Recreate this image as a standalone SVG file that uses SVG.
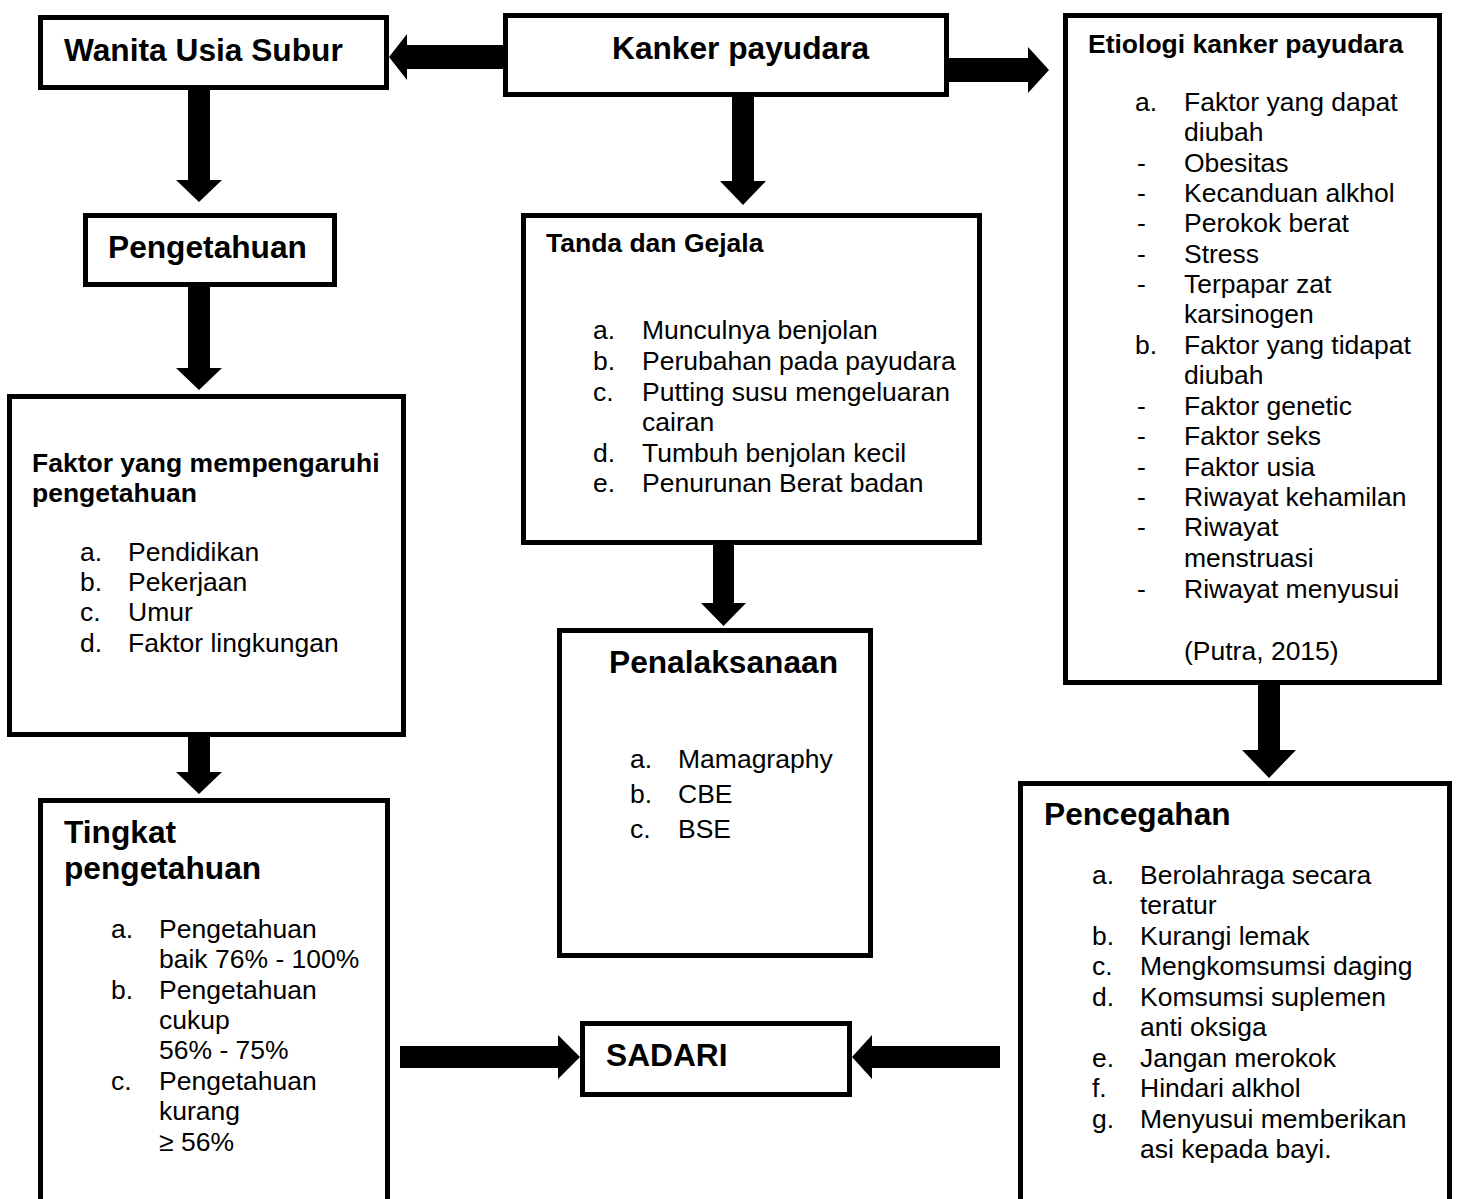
<svg xmlns="http://www.w3.org/2000/svg" width="1465" height="1199" viewBox="0 0 1465 1199">
<style>
.box{fill:#fff;stroke:#000;stroke-width:5}
text{font-family:"Liberation Sans",Arial,sans-serif;fill:#000}
.t{font-size:31.7px;font-weight:bold}
.h{font-size:26.5px;font-weight:bold}
.b{font-size:26.5px}
.arr{fill:#000}
</style>
<rect width="1465" height="1199" fill="#fff"/>
<g id="connectors">
<polygon class="arr" points="188,90 210,90 210,180 222,180 199,202 176,180 188,180"/>
<polygon class="arr" points="188,287 210,287 210,368 222,368 199,390 176,368 188,368"/>
<polygon class="arr" points="188,737 210,737 210,772 222,772 199,794 176,772 188,772"/>
<polygon class="arr" points="732,97 754,97 754,181 766,181 743,205 720,181 732,181"/>
<polygon class="arr" points="713,545 734,545 734,603 746,603 723.5,626 701,603 713,603"/>
<polygon class="arr" points="1258,685 1280,685 1280,750 1296,750 1269,778 1242,750 1258,750"/>
<polygon class="arr" points="503,45 407,45 407,34 389,57 407,80 407,69 503,69"/>
<polygon class="arr" points="949,58 1028,58 1028,47 1049,70 1028,93 1028,82 949,82"/>
<polygon class="arr" points="400,1046 558,1046 558,1035 580,1057 558,1079 558,1068 400,1068"/>
<polygon class="arr" points="1000,1046 872,1046 872,1035 852,1057 872,1079 872,1068 1000,1068"/>
</g>
<g id="wanita">
<rect class="box" x="40.5" y="17.5" width="346" height="70"/>
<text class="t" x="64" y="61">Wanita Usia Subur</text>
</g>
<g id="kanker">
<rect class="box" x="505.5" y="15.5" width="441" height="79"/>
<text class="t" x="612" y="59">Kanker payudara</text>
</g>
<g id="etiologi">
<rect class="box" x="1065.5" y="15.5" width="374" height="667"/>
<text class="h" x="1088" y="53">Etiologi kanker payudara</text>
<g class="b">
<text x="1135" y="111">a.</text><text x="1184" y="111">Faktor yang dapat</text>
<text x="1184" y="141">diubah</text>
<text x="1137" y="172">-</text><text x="1184" y="172">Obesitas</text>
<text x="1137" y="202">-</text><text x="1184" y="202">Kecanduan alkhol</text>
<text x="1137" y="232">-</text><text x="1184" y="232">Perokok berat</text>
<text x="1137" y="263">-</text><text x="1184" y="263">Stress</text>
<text x="1137" y="293">-</text><text x="1184" y="293">Terpapar zat</text>
<text x="1184" y="323">karsinogen</text>
<text x="1135" y="354">b.</text><text x="1184" y="354">Faktor yang tidapat</text>
<text x="1184" y="384">diubah</text>
<text x="1137" y="415">-</text><text x="1184" y="415">Faktor genetic</text>
<text x="1137" y="445">-</text><text x="1184" y="445">Faktor seks</text>
<text x="1137" y="476">-</text><text x="1184" y="476">Faktor usia</text>
<text x="1137" y="506">-</text><text x="1184" y="506">Riwayat kehamilan</text>
<text x="1137" y="536">-</text><text x="1184" y="536">Riwayat</text>
<text x="1184" y="567">menstruasi</text>
<text x="1137" y="598">-</text><text x="1184" y="598">Riwayat menyusui</text>
<text x="1184" y="660">(Putra, 2015)</text>
</g>
</g>
<g id="pengetahuan">
<rect class="box" x="85.5" y="215.5" width="249" height="69"/>
<text class="t" x="108" y="258">Pengetahuan</text>
</g>
<g id="faktor">
<rect class="box" x="9.5" y="396.5" width="394" height="338"/>
<text class="h" x="32" y="472">Faktor yang mempengaruhi</text>
<text class="h" x="32" y="502">pengetahuan</text>
<g class="b">
<text x="80" y="561">a.</text><text x="128" y="561">Pendidikan</text>
<text x="80" y="591">b.</text><text x="128" y="591">Pekerjaan</text>
<text x="80" y="621">c.</text><text x="128" y="621">Umur</text>
<text x="80" y="652">d.</text><text x="128" y="652">Faktor lingkungan</text>
</g>
</g>
<g id="tingkat">
<rect class="box" x="40.5" y="800.5" width="347" height="410"/>
<text class="t" x="64" y="843">Tingkat</text>
<text class="t" x="64" y="879">pengetahuan</text>
<g class="b">
<text x="111" y="938">a.</text><text x="159" y="938">Pengetahuan</text>
<text x="159" y="968">baik 76% - 100%</text>
<text x="111" y="999">b.</text><text x="159" y="999">Pengetahuan</text>
<text x="159" y="1029">cukup</text>
<text x="159" y="1059">56% - 75%</text>
<text x="111" y="1090">c.</text><text x="159" y="1090">Pengetahuan</text>
<text x="159" y="1120">kurang</text>
<text x="159" y="1151">≥ 56%</text>
</g>
</g>
<g id="tanda">
<rect class="box" x="523.5" y="215.5" width="456" height="327"/>
<text class="h" x="546" y="252">Tanda dan Gejala</text>
<g class="b">
<text x="593" y="339">a.</text><text x="642" y="339">Munculnya benjolan</text>
<text x="593" y="370">b.</text><text x="642" y="370">Perubahan pada payudara</text>
<text x="593" y="401">c.</text><text x="642" y="401">Putting susu mengeluaran</text>
<text x="642" y="431">cairan</text>
<text x="593" y="462">d.</text><text x="642" y="462">Tumbuh benjolan kecil</text>
<text x="593" y="492">e.</text><text x="642" y="492">Penurunan Berat badan</text>
</g>
</g>
<g id="penalaksanaan">
<rect class="box" x="559.5" y="630.5" width="311" height="325"/>
<text class="t" x="609" y="673">Penalaksanaan</text>
<g class="b">
<text x="630" y="768">a.</text><text x="678" y="768">Mamagraphy</text>
<text x="630" y="803">b.</text><text x="678" y="803">CBE</text>
<text x="630" y="838">c.</text><text x="678" y="838">BSE</text>
</g>
</g>
<g id="sadari">
<rect class="box" x="582.5" y="1023.5" width="267" height="71"/>
<text class="t" x="606" y="1066">SADARI</text>
</g>
<g id="pencegahan">
<rect class="box" x="1020.5" y="783.5" width="429" height="427"/>
<text class="t" x="1044" y="825">Pencegahan</text>
<g class="b">
<text x="1092" y="884">a.</text><text x="1140" y="884">Berolahraga secara</text>
<text x="1140" y="914">teratur</text>
<text x="1092" y="945">b.</text><text x="1140" y="945">Kurangi lemak</text>
<text x="1092" y="975">c.</text><text x="1140" y="975">Mengkomsumsi daging</text>
<text x="1092" y="1006">d.</text><text x="1140" y="1006">Komsumsi suplemen</text>
<text x="1140" y="1036">anti oksiga</text>
<text x="1092" y="1067">e.</text><text x="1140" y="1067">Jangan merokok</text>
<text x="1092" y="1097">f.</text><text x="1140" y="1097">Hindari alkhol</text>
<text x="1092" y="1128">g.</text><text x="1140" y="1128">Menyusui memberikan</text>
<text x="1140" y="1158">asi kepada bayi.</text>
</g>
</g>
</svg>
